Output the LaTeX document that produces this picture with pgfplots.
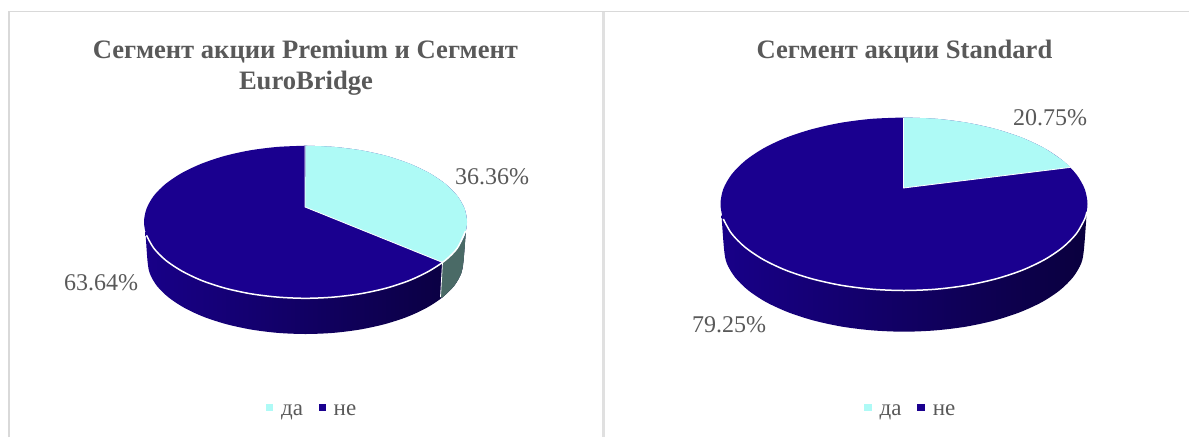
\documentclass[border=0pt]{standalone}
\usepackage{pgfplots}
\pgfplotsset{compat=1.18}
\usepackage{fontspec}
\setmainfont{Liberation Serif}
\definecolor{da}{HTML}{AEFAF6}
\definecolor{ne}{HTML}{1A008F}
\definecolor{sideL}{HTML}{180088}
\definecolor{sideR}{HTML}{0A003E}
\definecolor{grayside}{HTML}{4A6A66}
\definecolor{txt}{HTML}{595959}
\definecolor{frame}{HTML}{D9D9D9}
\definecolor{sep}{HTML}{E0E0E0}
\begin{document}
\begin{tikzpicture}
\begin{axis}[scale only axis,width=1189pt,height=437pt,xmin=0,xmax=1189,ymin=0,ymax=437,y dir=reverse,hide axis,clip=true]
% panels
\addplot[frame,line width=1.3pt] coordinates {(9,437)(9,11.5)(1189,11.5)};
\addplot[sep,line width=3.5pt] coordinates {(603.5,12)(603.5,437)};
% LEFT PIE: side
\addplot[draw=none,smooth,left color=sideL,right color=sideR] coordinates {
(466,228)(463.5,261)(461.1,273.7)(454,286)(442.3,297.5)(426.5,307.9)(407.1,316.9)(384.5,324.2)(359.5,329.6)(332.9,332.9)(305.5,334)(278.1,332.9)(251.5,329.6)(226.5,324.2)(203.9,316.9)(184.5,307.9)(168.7,297.5)(157,286)(149.9,273.7)(147.5,261)(145.5,232)};
\addplot[draw=none,smooth,fill=grayside] coordinates {
(466,228)(463.5,261)(461.1,273.7)(454,286)(442.3,297.5)};
\addplot[draw=none,fill=grayside] coordinates {(466,228)(463.5,261)(461.1,273.7)(454,286)(442.3,297.5)(440.5,298)(442.5,262.4)} -- cycle;
% top
\addplot[draw=none,smooth,fill=ne] coordinates {
(305.5,145.7)(333.5,146.9)(360.7,150.3)(386.3,155.9)(409.3,163.6)(429.2,173)(445.4,183.9)(457.3,195.9)(464.6,208.8)(467,222)(464.6,235.3)(457.3,248.1)(445.4,260.2)(429.2,271)(409.3,280.5)(386.3,288.1)(360.7,293.7)(333.5,297.1)(305.5,298.3)(277.5,297.1)(250.3,293.7)(224.8,288.1)(201.7,280.5)(181.8,271)(165.6,260.2)(153.7,248.1)(146.5,235.3)(144,222)(146.5,208.8)(153.7,195.9)(165.6,183.9)(181.8,173)(201.7,163.6)(224.8,155.9)(250.3,150.3)(277.5,146.9)(305.5,145.7)};
\addplot[draw=none,smooth,fill=da] coordinates {
(305.5,145.7)(333.5,146.9)(360.7,150.3)(386.3,155.9)(409.3,163.6)(429.2,173)(445.4,183.9)(457.3,195.9)(464.6,208.8)(467,222)(464.6,235.3)(457.3,248.1)(445.4,260.2)(442.5,262.4)};
\addplot[draw=none,fill=da] coordinates {(305,207)(305.5,145.7)(333.5,146.9)(360.7,150.3)(386.3,155.9)(409.3,163.6)(429.2,173)(445.4,183.9)(457.3,195.9)(464.6,208.8)(467,222)(464.6,235.3)(457.3,248.1)(445.4,260.2)(442.5,262.4)} -- cycle;
\addplot[white,smooth,line width=1.5pt] coordinates {
(465.5,231)(457.3,248.1)(445.4,260.2)(429.2,271)(409.3,280.5)(386.3,288.1)(360.7,293.7)(333.5,297.1)(305.5,298.3)(277.5,297.1)(250.3,293.7)(224.8,288.1)(201.7,280.5)(181.8,271)(165.6,260.2)(153.7,248.1)(146.5,235.3)};
\addplot[white,line width=0.8pt] coordinates {(305,146)(305,207)(442.5,262.4)(440.5,297)};
% RIGHT PIE: side
\addplot[draw=none,smooth,left color=sideL,right color=sideR] coordinates {
(1086.5,215)(1084,248.7)(1081.3,263.1)(1073.1,277.1)(1059.9,290.2)(1041.9,302.1)(1019.7,312.3)(994,320.6)(965.6,326.7)(935.2,330.4)(904,331.7)(872.8,330.4)(842.4,326.7)(814,320.6)(788.3,312.3)(766.1,302.1)(748.1,290.2)(734.9,277.1)(726.7,263.1)(724,248.7)(721.5,215)};
\addplot[draw=none,smooth,fill=ne] coordinates {
(904,117.5)(935.9,118.8)(966.8,122.7)(995.8,129.1)(1022,137.7)(1044.6,148.4)(1062.9,160.75)(1076.4,174.4)(1084.7,189)(1087.5,204)(1084.7,219)(1076.4,233.6)(1062.9,247.25)(1044.6,259.6)(1022,270.3)(995.8,278.9)(966.8,285.3)(935.9,289.2)(904,290.5)(872.1,289.2)(841.2,285.3)(812.25,278.9)(786,270.3)(763.4,259.6)(745.1,247.25)(731.6,233.6)(723.3,219)(720.5,204)(723.3,189)(731.6,174.4)(745.1,160.75)(763.4,148.4)(786,137.7)(812.25,129.1)(841.2,122.7)(872.1,118.8)(904,117.5)};
\addplot[draw=none,smooth,fill=da] coordinates {
(904,117.5)(935.9,118.8)(966.8,122.7)(995.8,129.1)(1022,137.7)(1044.6,148.4)(1062.9,160.75)(1070.3,167.4)};
\addplot[draw=none,fill=da] coordinates {(903.5,188)(904,117.5)(935.9,118.8)(966.8,122.7)(995.8,129.1)(1022,137.7)(1044.6,148.4)(1062.9,160.75)(1070.3,167.4)} -- cycle;
\addplot[white,smooth,line width=1.5pt] coordinates {
(1086.8,212)(1084.7,219)(1076.4,233.6)(1062.9,247.25)(1044.6,259.6)(1022,270.3)(995.8,278.9)(966.8,285.3)(935.9,289.2)(904,290.5)(872.1,289.2)(841.2,285.3)(812.25,278.9)(786,270.3)(763.4,259.6)(745.1,247.25)(731.6,233.6)(723.3,219)};
\addplot[white,line width=0.8pt] coordinates {(903.5,118)(903.5,188)(1070.3,167.4)};
% legends
\addplot[only marks,mark=square*,mark size=3.4pt,mark options={draw=da,fill=da,line width=0pt}] coordinates {(269.5,407.5)(868.3,407.5)};
\addplot[only marks,mark=square*,mark size=3.4pt,mark options={draw=ne,fill=ne,line width=0pt}] coordinates {(322.5,407.5)(921.3,407.5)};
% text
\node[txt,font=\bfseries\fontsize{26.6}{31}\selectfont,anchor=base] at (axis cs:305.5,58) {Сегмент акции Premium и Сегмент};
\node[txt,font=\bfseries\fontsize{26.6}{31}\selectfont,anchor=base] at (axis cs:306,89) {EuroBridge};
\node[txt,font=\bfseries\fontsize{26.6}{31}\selectfont,anchor=base] at (axis cs:904.5,58) {Сегмент акции Standard};
\node[txt,font=\fontsize{24}{28}\selectfont,anchor=center] at (axis cs:492,177) {36.36\%};
\node[txt,font=\fontsize{24}{28}\selectfont,anchor=center] at (axis cs:101,283) {63.64\%};
\node[txt,font=\fontsize{24}{28}\selectfont,anchor=center] at (axis cs:1050,118) {20.75\%};
\node[txt,font=\fontsize{24}{28}\selectfont,anchor=center] at (axis cs:729,325) {79.25\%};
\node[txt,font=\fontsize{23}{25}\selectfont,anchor=base] at (axis cs:292,415.5) {да};
\node[txt,font=\fontsize{23}{25}\selectfont,anchor=base] at (axis cs:345,415.5) {не};
\node[txt,font=\fontsize{23}{25}\selectfont,anchor=base] at (axis cs:890.5,415.5) {да};
\node[txt,font=\fontsize{23}{25}\selectfont,anchor=base] at (axis cs:944,415.5) {не};
\path (axis cs:0,0) rectangle (axis cs:1189,437);
\end{axis}
\end{tikzpicture}
\end{document}
